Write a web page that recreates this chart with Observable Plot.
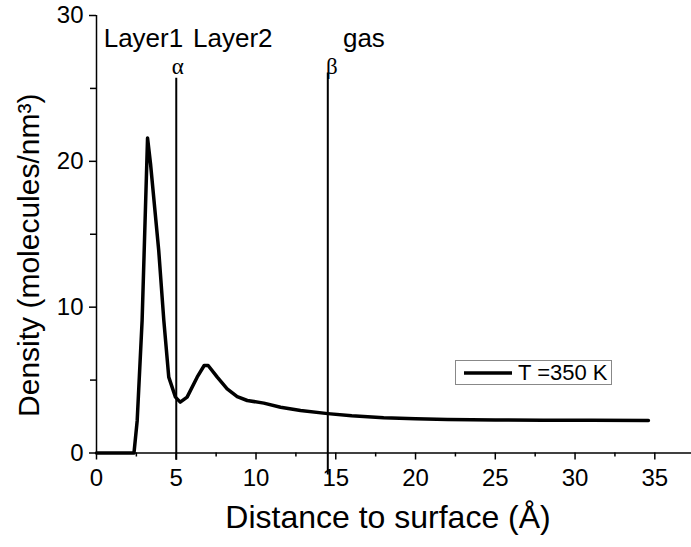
<!DOCTYPE html>
<html>
<head>
<meta charset="utf-8">
<script src="https://cdn.jsdelivr.net/npm/d3@7"></script>
<script src="https://cdn.jsdelivr.net/npm/@observablehq/plot@0.6"></script>
<style>
  html, body { margin: 0; padding: 0; background: #fff; }
  #wrap { position: relative; width: 691px; height: 547px; font-family: "Liberation Sans", Arial, sans-serif; }
  #legend { position: absolute; left: 455px; top: 360px; width: 155px; height: 23px; border: 1px solid #888; background: #fff; display: flex; align-items: center; }
  #legend svg { margin-left: 8px; }
  #legend span { font-size: 22px; margin-left: 6px; line-height: 22px; color: #000; }
</style>
</head>
<body>
<div id="wrap"></div>
<script>
// Data
const distance = [0, 2.35, 2.55, 2.86, 3.2, 3.39, 3.9, 4.22, 4.53, 4.95, 5.25, 5.68, 6.31, 6.75, 7.0, 7.57, 8.19, 8.82, 9.45, 10.49, 11.54, 12.79, 14.5, 16, 18, 20, 22, 25, 28, 31, 34.6];
const density  = [0, 0, 2.2, 9.1, 21.6, 19.8, 13.9, 9.1, 5.2, 3.83, 3.49, 3.83, 5.2, 6.0, 6.0, 5.2, 4.4, 3.87, 3.6, 3.42, 3.14, 2.91, 2.7, 2.55, 2.42, 2.35, 2.3, 2.27, 2.25, 2.24, 2.23];
const seriesName = "T =350 K";

const xTicks = [0, 5, 10, 15, 20, 25, 30, 35];
const xMinorTicks = [2.5, 7.5, 12.5, 17.5, 22.5, 27.5, 32.5, 37.5];
const yTicks = [0, 10, 20, 30];
const yMinorTicks = [5, 15, 25];

const xTitle = "Distance to surface (Å)";
const yTitle = "Density (molecules/nm³)";

// Boundary lines (alpha, beta) and region labels
const boundaryNames = ["α", "β"];
const boundaryX = [5, 14.5];
const boundaryTop = [25.7, 26.05];
const boundaryBottom = [-0.5, -1.5];
const regionNames = ["Layer1", "Layer2", "gas"];
const regionX = [0.45, 6.05, 15.45];
const regionY = 27.85;
const greekX = [5.1, 14.75];
const greekY = 25.96;

const curve = distance.map((d, i) => ({distance: d, density: density[i]}));
const bounds = boundaryNames.map((n, i) => ({name: n, x: boundaryX[i], top: boundaryTop[i], bottom: boundaryBottom[i]}));
const regions = regionNames.map((n, i) => ({name: n, x: regionX[i]}));
const greeks = boundaryNames.map((n, i) => ({name: n, x: greekX[i], anchor: i === 0 ? "middle" : "start"}));

const font = "Liberation Sans, Arial, sans-serif";

const chart = Plot.plot({
  width: 691,
  height: 547,
  marginLeft: 96,
  marginRight: 0,
  marginTop: 15,
  marginBottom: 94.5,
  style: {fontFamily: font, color: "#000", background: "#fff", overflow: "visible"},
  x: {domain: [0, 37.3]},
  y: {domain: [0, 30]},
  marks: [
    Plot.axisX(xTicks, {tickSize: 7, tickPadding: 8.5, fontSize: 24, strokeWidth: 1.5, label: null}),
    Plot.axisX(xMinorTicks, {tickSize: 4, tickFormat: () => "", strokeWidth: 1.5, label: null}),
    Plot.axisY(yTicks, {tickSize: 7, tickPadding: 6, fontSize: 24, strokeWidth: 1.5, label: null}),
    Plot.axisY(yMinorTicks, {tickSize: 6, tickFormat: () => "", strokeWidth: 1.5, label: null}),
    Plot.ruleY([0], {stroke: "#000", strokeWidth: 1.5}),
    Plot.ruleX([0], {stroke: "#000", strokeWidth: 1.5}),
    Plot.ruleX(bounds, {x: "x", y1: "bottom", y2: "top", stroke: "#000", strokeWidth: 2}),
    Plot.line(curve, {x: "distance", y: "density", stroke: "#000", strokeWidth: 3.5, strokeLinejoin: "round"}),
    Plot.text(regions, {x: "x", y: () => regionY, text: "name", textAnchor: "start", lineAnchor: "bottom", fontSize: 26, fill: "#000"}),
    Plot.text(greeks, {x: "x", y: () => greekY, text: "name", textAnchor: (d) => d.anchor, lineAnchor: "bottom", fontSize: 23, fontFamily: "Liberation Serif, Times New Roman, serif", fill: "#000"}),
    Plot.text([xTitle], {frameAnchor: "bottom", textAnchor: "middle", dx: -6, dy: 75, text: (d) => d, fontSize: 32, fill: "#000"}),
    Plot.text([yTitle], {frameAnchor: "left", textAnchor: "middle", dx: -67, dy: 21, rotate: -90, text: (d) => d, fontSize: 30, fill: "#000"})
  ]
});

const wrap = document.getElementById("wrap");
wrap.appendChild(chart);
chart.style.position = "absolute";
chart.style.left = "0px";
chart.style.top = "0px";

const legend = document.createElement("div");
legend.id = "legend";
legend.innerHTML = `<svg width="48" height="6"><line x1="0" y1="3" x2="48" y2="3" stroke="#000" stroke-width="3.5"/></svg><span></span>`;
legend.querySelector("span").textContent = seriesName;
wrap.appendChild(legend);
</script>
</body>
</html>
